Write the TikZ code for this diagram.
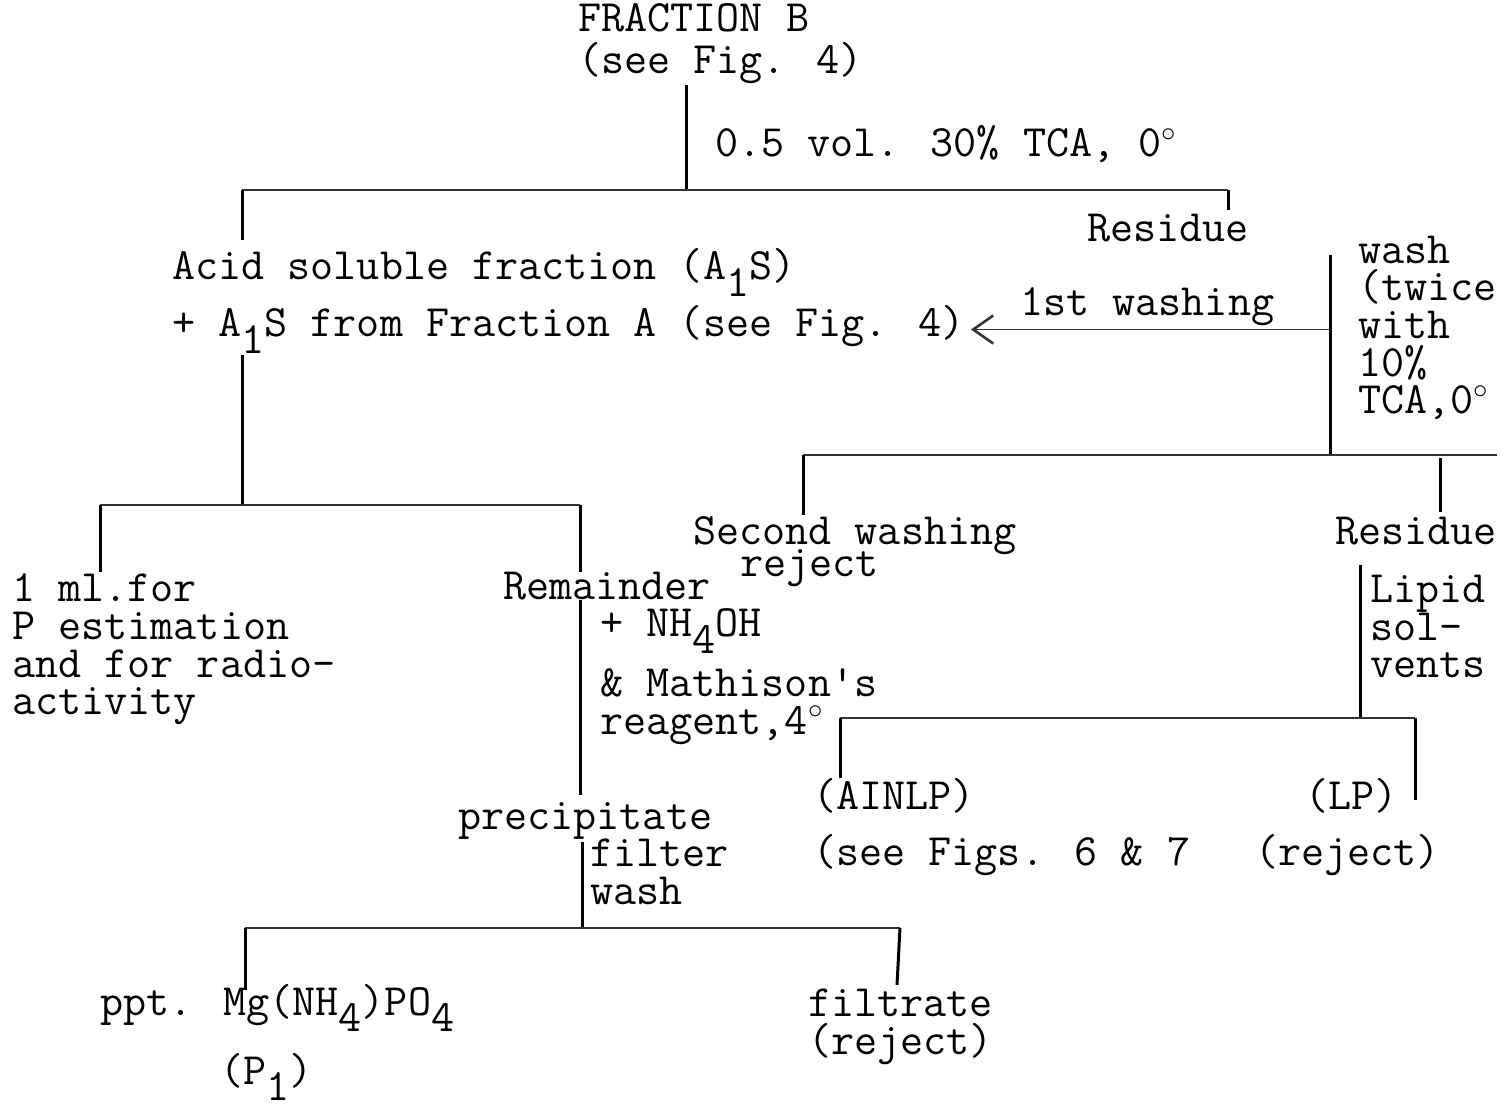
\documentclass[tikz,border=0pt]{standalone}
\usepackage{fontspec}
\usetikzlibrary{arrows.meta}
\newcommand\dn[1]{\raisebox{-0.36em}{#1}}
\newcommand\dg{$^{\circ}$}
\newcommand\tw{\ttfamily\fontsize{22.4}{18.85}\selectfont}
\begin{document}
\begin{tikzpicture}[x=0.5pt,y=-0.5pt,
  txt/.style={anchor=base west, inner sep=0pt, font=\tw, align=left},
  hline/.style={line width=1.3pt, black!80},
  vline/.style={line width=1.5pt, black},
  wsharrow/.style={line width=0.9pt, black!80, -{Straight Barb[length=10pt,width=14pt,line width=1.3pt]}}]
\useasboundingbox[fill=white] (0,0) rectangle (1501,1112);

% ---- texts (base = baseline of last line)
\node[txt] (fracB) at (578,32) {FRACTION B};
\node[txt] (seeB) at (578,74) {(see Fig. 4)};
\node[txt] (tca) at (715,157) {0.5 vol. 30\% TCA, 0\dg};
\node[txt] (res1) at (1087,242) {Residue};
\node[txt] (acid) at (172,280) {Acid soluble fraction (A\dn{1}S)};
\node[txt] (plusA) at (172,337) {+ A\dn{1}S from Fraction A (see Fig. 4)};
\node[txt] (wash1) at (1020,316) {1st washing};
\node[txt] (twice) at (1358,414) {wash\\(twice\\with\\10\%\\TCA,0\dg};
\node[txt] (second) at (693,545) {Second washing};
\node[txt] (reject1) at (740,577) {reject};
\node[txt] (res2) at (1335,545) {Residue};
\node[txt] (lipid) at (1370,678) {Lipid\\sol-\\vents};
\node[txt] (ainlp) at (813,810) {(AINLP)};
\node[txt] (seefigs) at (813,865) {(see Figs. 6 \& 7};
\node[txt] (lp) at (1305,810) {(LP)};
\node[txt] (reject2) at (1255,865) {(reject)};
\node[txt] (oneml) at (12,715) {1 ml.for\\P estimation\\and for radio-\\activity};
\node[txt] (remain) at (503,600) {Remainder};
\node[txt] (nh4oh) at (600,637) {+ NH\dn{4}OH};
\node[txt] (mathison) at (600,734) {\& Mathison's\\reagent,4\dg};
\node[txt] (precip) at (458,829) {precipitate};
\node[txt] (filter) at (590,904) {filter\\wash};
\node[txt] (ppt) at (100,1015) {ppt. Mg(NH\dn{4})PO\dn{4}};
\node[txt] (p1) at (220,1084) {(P\dn{1})};
\node[txt] (filtrate) at (808,1054) {filtrate\\(reject)};

% ---- junction coordinates
\coordinate (t1) at (686,85);
\coordinate (j1) at (686,190);
\coordinate (b1l) at (242,190);
\coordinate (b1r) at (1228,190);
\coordinate (d1l) at (242,240);
\coordinate (d1r) at (1228,210);

\coordinate (t2) at (1330,255);
\coordinate (j2) at (1330,455);
\coordinate (b2l) at (803,455);
\coordinate (b2r) at (1497,455);
\coordinate (d2l) at (803,515);
\coordinate (u2r) at (1440,458);
\coordinate (d2r) at (1440,512);

\coordinate (t3) at (1360,565);
\coordinate (j3) at (1360,718);
\coordinate (b3l) at (840,718);
\coordinate (b3r) at (1415,718);
\coordinate (d3l) at (840,778);
\coordinate (d3r) at (1415,800);

\coordinate (t4) at (242,355);
\coordinate (j4) at (242,505);
\coordinate (b4l) at (100,505);
\coordinate (b4r) at (580,505);
\coordinate (d4l) at (100,572);
\coordinate (d4r) at (580,572);

\coordinate (t5) at (580,600);
\coordinate (e5) at (580,795);
\coordinate (t6) at (582,842);
\coordinate (j6) at (582,928);
\coordinate (b6l) at (245,928);
\coordinate (b6r) at (900,928);
\coordinate (d6l) at (245,990);
\coordinate (d6r) at (897,985);

% ---- connectors
\draw[vline] (t1) -- (j1);
\draw[hline] (b1l) -- (b1r);
\draw[vline] (b1l) -- (d1l);
\draw[vline] (b1r) -- (d1r);

\draw[vline] (t2) -- (j2);
\draw[wsharrow,shorten >=3pt] (t2 |- plusA.east) -- (plusA.east);
\draw[hline] (b2l) -- (b2r);
\draw[vline] (b2l) -- (d2l);
\draw[vline] (u2r) -- (d2r);

\draw[vline] (t3) -- (j3);
\draw[hline] (b3l) -- (b3r);
\draw[vline] (b3l) -- (d3l);
\draw[vline] (b3r) -- (d3r);

\draw[vline] (t4) -- (j4);
\draw[hline] (b4l) -- (b4r);
\draw[vline] (b4l) -- (d4l);
\draw[vline] (b4r) -- (d4r);

\draw[vline] (t5) -- (e5);
\draw[vline] (t6) -- (j6);
\draw[hline] (b6l) -- (b6r);
\draw[vline] (b6l) -- (d6l);
\draw[vline] (b6r) -- (d6r);
\end{tikzpicture}
\end{document}
